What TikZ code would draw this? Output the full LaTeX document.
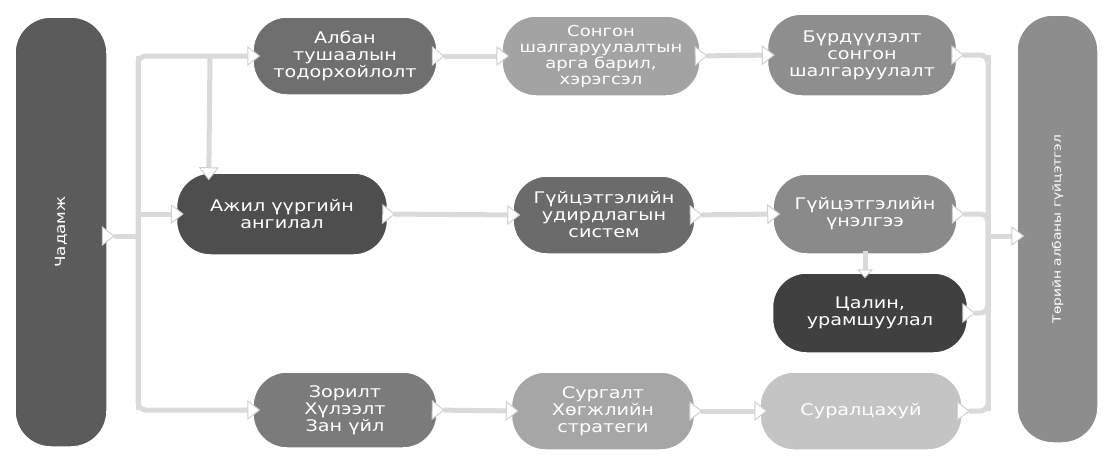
\documentclass[tikz,border=0pt]{standalone}
\usepackage{fontspec}
\setmainfont{DejaVu Sans}[FakeStretch=1.2]
\usetikzlibrary{arrows.meta,calc}
\definecolor{cChad}{HTML}{5B5B5B}
\definecolor{cAlban}{HTML}{6F6F6F}
\definecolor{cSongon}{HTML}{A3A3A3}
\definecolor{cBur}{HTML}{8E8E8E}
\definecolor{cAjil}{HTML}{4E4E4E}
\definecolor{cGud}{HTML}{6B6B6B}
\definecolor{cGun}{HTML}{8A8A8A}
\definecolor{cTsal}{HTML}{404040}
\definecolor{cZor}{HTML}{7B7B7B}
\definecolor{cSurg}{HTML}{A6A6A6}
\definecolor{cSural}{HTML}{C4C4C4}
\definecolor{cRight}{HTML}{8D8D8D}
\definecolor{cLine}{HTML}{DADADA}
\definecolor{cTipLine}{HTML}{D0D0D0}
\begin{document}
\begin{tikzpicture}[x=1pt,y=-1pt,
  box/.style={draw=white, line width=1.5pt, rounded corners=34pt, text=white,
    align=center, inner sep=2pt, font=\fontsize{16}{17}\selectfont},
  tall/.style={draw=white, line width=1.5pt, rounded corners=36pt, text=white,
    inner sep=2pt, rotate=90},
  wtip/.tip={Triangle[width=20pt,length=13pt,fill=white,line width=1pt,color=cTipLine]},
  stip/.tip={Triangle[width=16pt,length=9pt,fill=white,line width=1pt,color=cTipLine]},
  conn/.style={draw=cLine, line width=5pt, rounded corners=8pt},
  both/.style={conn, {wtip[reversed]}-{wtip}},
  fromtip/.style={conn, {wtip[reversed]}-},
  totip/.style={conn, -{wtip}},
]
\useasboundingbox (0,0) rectangle (1105,455);
\fill[white] (0,0) rectangle (1105,455);

% tall side boxes (rotated: south = right side, north = left side)
\node[tall, fill=cChad, minimum width=430pt, minimum height=92pt,
  font=\fontsize{14}{16}\selectfont] (chad) at (61,232) {Чадамж};
\node[tall, fill=cRight, minimum width=428pt, minimum height=81pt,
  font=\fontsize{11.5}{14}\selectfont] (right) at (1057.5,229) {Төрийн албаны гүйцэтгэл};

% row 1
\node[box, fill=cAlban, minimum width=184pt, minimum height=78pt] (alban) at (345,56)
  {Албан\\тушаалын\\тодорхойлолт};
\node[box, fill=cSongon, minimum width=198pt, minimum height=80pt,
  font=\fontsize{15}{16}\selectfont] (songon) at (601,56)
  {Сонгон\\шалгаруулалтын\\арга барил,\\хэрэгсэл};
\node[box, fill=cBur, minimum width=189pt, minimum height=82pt] (bur) at (862,55)
  {Бүрдүүлэлт\\сонгон\\шалгаруулалт};

% row 2
\node[box, fill=cAjil, minimum width=211pt, minimum height=82pt] (ajil) at (282,214)
  {Ажил үүргийн\\ангилал};
\node[box, fill=cGud, minimum width=182pt, minimum height=78pt] (gud) at (604,215)
  {Гүйцэтгэлийн\\удирдлагын\\систем};
\node[box, fill=cGun, minimum width=184pt, minimum height=80pt] (gun) at (865,214)
  {Гүйцэтгэлийн\\үнэлгээ};
\node[box, fill=cTsal, minimum width=195pt, minimum height=80pt] (tsal) at (870,313)
  {Цалин,\\урамшуулал};

% row 3
\node[box, fill=cZor, minimum width=184pt, minimum height=76pt] (zor) at (345,410)
  {Зорилт\\Хүлээлт\\Зан үйл};
\node[box, fill=cSurg, minimum width=183pt, minimum height=78pt] (surg) at (603,411)
  {Сургалт\\Хөгжлийн\\стратеги};
\node[box, fill=cSural, minimum width=202pt, minimum height=78pt] (sural) at (861,411)
  {Суралцахуй};

% coordinates
\coordinate (L) at (138,236);
\coordinate (T1) at (210,56);
\coordinate (T2) at ([xshift=33pt,yshift=-8pt]ajil.north west);
\coordinate (R) at (988,236);

% left trunk
\draw[conn] (L |- alban.west) -- (L |- zor.west);
\draw[fromtip] ([xshift=-6pt]chad.south |- L) -- (L);
\draw[totip] (L) |- ([xshift=8pt]alban.west);
\draw[totip] (L) |- ([xshift=8pt]zor.west);
\draw[totip] (L |- ajil.west) -- ([xshift=8pt]ajil.west);
\draw[totip] (T1) -- (T2);

% horizontal links
\draw[both] ([xshift=-6pt]alban.east) -- ([xshift=8pt]songon.west);
\draw[both] ([xshift=-6pt]songon.east) -- ([xshift=8pt]bur.west);
\draw[both] ([xshift=-6pt]ajil.east) -- ([xshift=8pt]gud.west);
\draw[both] ([xshift=-6pt]gud.east) -- ([xshift=8pt]gun.west);
\draw[both] ([xshift=-6pt]zor.east) -- ([xshift=8pt]surg.west);
\draw[both] ([xshift=-6pt]surg.east) -- ([xshift=8pt]sural.west);
\draw[conn, -{stip}] ([yshift=4pt]gun.south) -- ([yshift=-6pt]gun.south |- tsal.north);

% right trunk
\draw[conn] (R |- bur.east) -- (R |- sural.east);
\draw[fromtip] ([xshift=-6pt]bur.east) -| (R);
\draw[fromtip] ([xshift=-6pt]gun.east) -| (R);
\draw[fromtip] ([xshift=-6pt]tsal.east) -| (R);
\draw[fromtip] ([xshift=-6pt]sural.east) -| (R);
\draw[totip] (R) -- ([xshift=8pt]right.north |- R);
\end{tikzpicture}
\end{document}
